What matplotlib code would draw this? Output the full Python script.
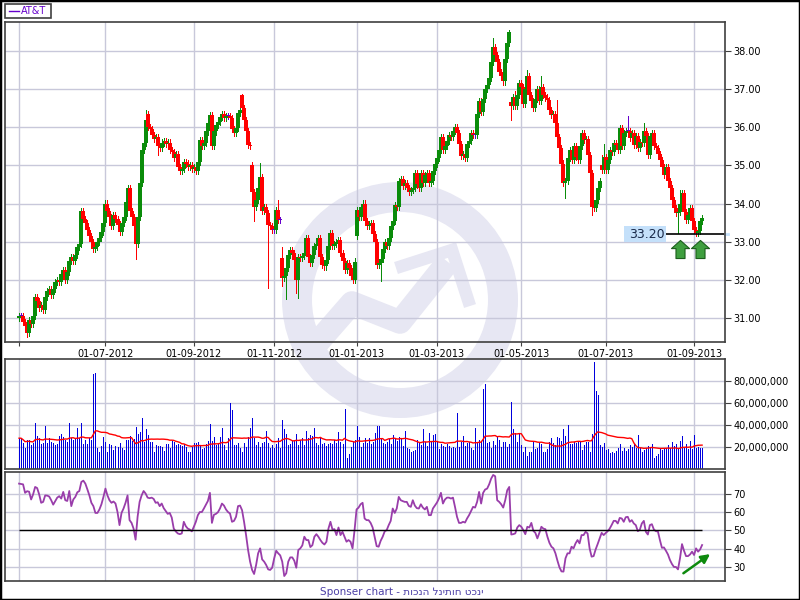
import numpy as np
import pandas as pd
import matplotlib
matplotlib.use("Agg")
import matplotlib.pyplot as plt
from matplotlib.patches import Rectangle, Wedge
from matplotlib.path import Path
from matplotlib.ticker import FuncFormatter

# AT&T daily closes (two months per list)
close_mayjun12 = [31.05, 31.05, 30.90, 30.80, 30.60, 30.95, 30.85, 31.05, 31.55, 31.45,
                  31.25, 31.35, 31.20, 31.55, 31.70, 31.75, 31.60, 31.75, 31.95, 32.00,
                  31.95, 32.15, 32.25, 32.00, 32.20, 32.50, 32.60, 32.50, 32.65, 32.85,
                  32.95, 33.80, 33.60, 33.50, 33.30, 33.15, 33.00, 32.80, 32.85, 33.00,
                  33.10, 33.25, 33.50]
close_julaug12 = [34.00, 33.80, 33.65, 33.40, 33.70, 33.60, 33.45, 33.25, 33.50, 33.65,
                  34.05, 34.40, 33.80, 33.65, 33.40, 32.95, 33.65, 34.55, 35.40, 35.60,
                  36.20, 36.00, 35.95, 35.80, 35.70, 35.75, 35.50, 35.45, 35.60, 35.65,
                  35.55, 35.60, 35.40, 35.35, 35.20, 35.30, 34.95, 34.85, 34.90, 35.10,
                  35.05, 34.95, 35.00, 34.90]
close_sepoct12 = [34.95, 34.85, 35.10, 35.67, 35.50, 35.60, 35.89, 36.10, 36.32, 35.50,
                  35.89, 36.05, 36.15, 36.28, 36.35, 36.24, 36.30, 36.30, 36.25, 35.95,
                  35.84, 35.97, 36.37, 36.45, 36.50, 36.20, 35.90, 35.54, 35.50, 34.30,
                  33.92, 34.10, 34.40, 34.70, 33.80, 33.92, 33.75, 33.44, 33.40, 33.30]
close_novdec12 = [33.30, 33.83, 33.57, 33.57, 32.04, 32.10, 32.30, 32.65, 32.79, 32.70,
                  32.52, 32.00, 32.60, 32.58, 32.62, 32.70, 33.10, 32.60, 32.44, 32.65,
                  32.88, 32.95, 33.10, 32.60, 32.40, 32.35, 32.52, 32.88, 33.22, 32.90,
                  32.95, 33.00, 33.05, 32.70, 32.50, 32.26, 32.45, 32.30, 32.10, 32.00,
                  32.48]
close_janfeb13 = [33.83, 33.65, 33.90, 34.00, 33.55, 33.40, 33.45, 33.50, 33.20, 33.00,
                  32.40, 32.45, 32.55, 32.80, 33.00, 32.90, 33.10, 33.40, 33.55, 33.95,
                  33.90, 34.60, 34.65, 34.45, 34.55, 34.40, 34.30, 34.35, 34.40, 34.80,
                  34.50, 34.40, 34.80, 34.55, 34.75, 34.80, 34.55, 34.60, 34.85, 35.05]
close_marapr13 = [35.20, 35.40, 35.75, 35.40, 35.50, 35.65, 35.80, 35.75, 35.90, 36.00,
                  35.85, 35.55, 35.25, 35.30, 35.20, 35.55, 35.65, 35.85, 35.80, 35.80,
                  36.35, 36.70, 36.40, 36.75, 37.00, 37.10, 37.30, 37.70, 38.10, 37.90,
                  37.70, 37.45, 37.35, 37.20, 37.80, 38.20, 38.50, 36.55, 36.80, 36.55,
                  36.85, 37.15]
close_mayjun13 = [37.05, 36.60, 37.00, 37.35, 36.85, 36.70, 36.50, 36.75, 37.00, 36.70,
                  37.05, 36.85, 36.78, 36.72, 36.45, 36.32, 36.35, 36.10, 35.75, 35.45,
                  35.05, 34.53, 34.60, 35.20, 35.40, 35.14, 35.50, 35.23, 35.14, 35.50,
                  35.84, 35.67, 35.70, 35.27, 34.80, 33.92, 33.88, 34.10, 34.40, 34.58,
                  34.88, 35.23]
close_julaug13 = [34.88, 35.14, 35.40, 35.36, 35.58, 35.54, 35.40, 35.97, 35.50, 35.84,
                  35.89, 35.89, 35.71, 35.84, 35.54, 35.76, 35.45, 35.62, 35.58, 35.89,
                  35.76, 35.27, 35.76, 35.84, 35.50, 35.45, 35.30, 35.14, 34.97, 34.75,
                  34.97, 34.58, 34.40, 34.10, 33.88, 33.75, 33.79, 34.00, 34.27, 33.79,
                  33.57, 33.70, 33.88, 33.53]
close_sep13 = [33.31, 33.22, 33.27, 33.55, 33.62]

# opens that gap away from the previous close, and long wicks
gap_open = {0: 31.00, 64: 36.35, 111: 36.85, 116: 35.00, 131: 32.57,
            168: 33.15, 245: 36.65, 290: 35.00}
wick_high = {63: 36.45, 111: 36.88, 120: 35.06, 129: 34.10, 131: 32.87, 236: 38.33,
             244: 38.55, 247: 36.95, 253: 37.50, 260: 37.35, 268: 36.72, 290: 35.26,
             291: 35.55, 303: 36.30, 311: 36.10, 329: 34.35}
wick_low = {4: 30.50, 58: 32.55, 69: 35.27, 117: 33.53, 124: 31.78, 131: 31.83,
            133: 31.50, 138: 31.65, 139: 31.52, 180: 31.96, 245: 36.20, 272: 34.15,
            285: 33.70, 328: 33.22}

# daily volume, millions
volume_part1 = [28, 28, 24, 19.5, 26, 26, 22, 24, 42, 30,
                28, 22.5, 23.4, 39, 24, 28, 25, 23.4, 22, 22.5,
                30, 32, 29.5, 26.4, 24.3, 42, 28, 26.4, 28, 37,
                28, 42, 22.5, 26.4, 22.5, 28, 26.4, 86, 87, 19.5,
                15.8, 21.3, 29.5, 24.3, 15.8, 22.5, 22, 17.3, 21.3, 20.4,
                23.4, 18.8, 17.3, 26, 26.4, 30, 25.5, 27.4, 38, 32,
                34, 46, 24.3, 36, 31, 24.3, 24.3, 15.8, 22, 21.3,
                21.3, 20.4, 16.4, 22.5, 22.5, 18.8, 25.5, 24.3, 22, 22.5,
                22, 21.3, 22.5, 20.4, 15.8, 15.8, 20.4, 23.4, 23.4, 24.3,
                22, 18.2, 19.5, 22.5, 25.5, 41, 25.5, 29.5, 22, 23.4,
                29.5, 37, 22, 17.3, 28, 60, 54, 22, 22, 23.4,
                18.8, 15.8, 23.4, 20.4, 29.5, 37, 46, 28, 22, 25,
                20.4, 23.4, 24.3, 35, 23.4, 18.8, 22, 18.8, 22.5, 28,
                18.8, 45, 36, 32, 22, 22.5, 25.5, 26.4, 32, 22,
                26.4, 28, 22, 35, 28, 31, 30, 37, 23.4, 22,
                28.6, 22.5, 23.4, 21.3, 22.5, 24, 22.5, 26.4, 23.4, 34,
                24.3, 22.5, 55, 9.7, 13.4, 20.4, 24.3, 26.4, 39, 29.5,
                20.4, 24, 28.6, 23.4, 28.6, 22.5, 24.3, 33, 39, 39,
                28.6, 23.4, 22.5, 25, 27, 22.5, 31, 28, 25.5]
volume_part2 = [29.5, 28, 21.3, 35, 19.5, 18.2, 15.8, 16.7, 17.3, 26.4,
                24.3, 22, 36, 25, 21.3, 32.5, 24.3, 31, 32, 24.3,
                18.2, 22.5, 21.3, 20.4, 22.5, 21.3, 19.5, 20.4, 19.5, 51,
                20.4, 24.3, 30, 21.3, 23.4, 24.3, 19.5, 17.3, 37, 24.3,
                26.4, 24.3, 73, 77, 23.4, 24.3, 19.5, 25.5, 22, 29.5,
                26.4, 20.4, 24.3, 24.3, 20.4, 22.5, 61, 36, 33, 25,
                32, 22, 15.8, 20.4, 12.2, 15.8, 15.8, 24.3, 18.2, 18.8,
                23.4, 22.5, 15.8, 15.8, 18.2, 24.3, 28.6, 23.4, 22, 29.5,
                28.6, 25.5, 36, 30, 40, 22.5, 22.5, 25, 23.4, 25.5,
                24.3, 17.3, 22, 24.3, 24.3, 15.8, 32, 97, 71, 67,
                22, 20.4, 24, 17.3, 18.2, 14.3, 15.8, 14.3, 16.4, 18.8,
                22.5, 16.4, 18.8, 16.4, 18.2, 22, 20.4, 22.5, 19.5, 31,
                19.5, 15.8, 17.3, 18.8, 21.3, 19.5, 22.5, 9.7, 12.2, 13.4,
                18.8, 17.3, 18.2, 18.8, 22, 19.5, 24.3, 21.3, 22.5, 19.5,
                25.5, 30, 18.8, 22.5, 18.2, 25.5, 18.2, 31, 19.5, 20.4,
                19.5, 18.8]

# RSI values
rsi_mayjun12 = [75.4, 75.2, 75.0, 70.4, 71.3, 71.0, 66.8, 69.6, 73.6, 73.0,
                69.6, 65.0, 65.5, 69.0, 68.9, 68.4, 66.4, 64.0, 65.9, 67.8,
                68.6, 67.3, 70.9, 66.4, 66.0, 71.4, 63.2, 66.8, 68.2, 70.7,
                71.4, 76.3, 77.0, 75.4, 72.3, 69.0, 65.0, 63.2, 59.5, 59.5,
                61.4, 64.2, 68.2]
rsi_julaug12 = [72.7, 69.0, 66.4, 65.0, 65.7, 64.6, 60.0, 52.9, 59.5, 61.9,
                65.0, 69.0, 55.6, 54.1, 51.0, 45.0, 57.4, 65.5, 69.0, 71.4,
                70.0, 67.8, 67.5, 67.8, 67.1, 65.0, 65.3, 63.2, 64.6, 62.1,
                60.6, 59.0, 59.5, 57.0, 51.0, 49.5, 48.4, 48.0, 48.4, 54.7,
                52.3, 51.0, 50.5, 49.5]
rsi_sepoct12 = [52.0, 54.7, 58.3, 60.0, 60.0, 61.9, 64.0, 66.0, 70.4, 54.1,
                58.5, 59.0, 59.9, 61.9, 64.6, 63.5, 61.4, 60.0, 59.2, 54.7,
                55.2, 57.4, 63.2, 63.5, 61.0, 54.7, 47.5, 39.4, 33.1, 28.6,
                26.4, 31.3, 37.6, 40.3, 34.3, 33.1, 31.3, 28.9, 28.6, 29.8]
rsi_novdec12 = [34.9, 39.0, 37.6, 36.5, 33.1, 25.3, 26.8, 33.1, 35.4, 35.4,
                33.6, 29.8, 39.4, 40.3, 41.9, 46.6, 44.8, 44.8, 41.0, 42.0,
                46.6, 48.0, 46.6, 44.8, 43.3, 42.4, 43.9, 51.0, 54.7, 50.5,
                50.7, 47.5, 51.6, 47.5, 49.3, 46.6, 43.9, 44.8, 43.9, 40.3,
                50.2]
rsi_janfeb13 = [61.4, 62.4, 64.2, 65.0, 56.5, 55.6, 55.6, 54.1, 51.6, 46.6,
                41.5, 41.2, 44.4, 46.6, 49.5, 50.2, 52.9, 55.2, 61.9, 59.5,
                61.9, 68.2, 66.4, 65.9, 65.5, 65.5, 63.3, 62.8, 66.4, 63.5,
                62.1, 61.9, 64.2, 62.4, 61.4, 62.8, 58.3, 58.3, 61.9, 63.5]
rsi_marapr13 = [65.1, 67.3, 70.4, 64.6, 66.8, 67.8, 67.8, 67.3, 67.8, 62.8,
                57.4, 54.1, 54.1, 54.7, 54.3, 56.5, 58.3, 60.6, 62.8, 62.4,
                65.5, 70.9, 64.6, 70.4, 72.2, 72.7, 75.0, 78.1, 80.1, 79.4,
                66.4, 65.5, 64.2, 62.4, 66.4, 71.8, 73.6, 47.8, 48.0, 48.4,
                51.6, 52.9]
rsi_mayjun13 = [52.0, 50.2, 48.0, 52.0, 51.6, 54.1, 49.8, 48.7, 45.7, 48.7,
                52.0, 51.0, 50.7, 46.6, 43.3, 41.2, 40.3, 37.6, 33.6, 30.0,
                27.8, 27.7, 34.9, 37.6, 37.6, 41.2, 40.3, 43.0, 44.8, 43.0,
                47.5, 47.5, 49.3, 48.4, 40.3, 35.8, 36.1, 39.7, 42.6, 45.7,
                48.7, 47.5]
rsi_julaug13 = [48.6, 49.6, 51.0, 53.0, 55.2, 55.2, 53.8, 56.8, 56.5, 54.7,
                57.2, 57.4, 54.7, 55.6, 53.8, 52.9, 49.6, 50.4, 53.8, 55.2,
                49.3, 47.8, 52.9, 53.4, 50.5, 49.6, 49.5, 44.8, 40.6, 40.8,
                39.0, 37.0, 34.0, 31.8, 30.2, 30.2, 28.9, 34.9, 42.6, 39.0,
                36.1, 36.1, 37.0, 38.5]
rsi_sep13 = [36.7, 40.3, 38.5, 39.7, 42.1]

# trading calendar and axis labels
holidays = ["2012-05-28", "2012-07-04", "2012-09-03", "2012-10-29", "2012-10-30",
            "2012-11-22", "2012-12-25", "2013-01-01", "2013-01-21", "2013-02-18",
            "2013-03-29", "2013-05-27", "2013-07-04", "2013-09-02"]
month_marks = ["2012-05-01", "2012-07-01", "2012-09-01", "2012-11-01", "2013-01-01",
               "2013-03-01", "2013-05-01", "2013-07-01", "2013-09-01"]
last_price = 33.20
arrow_idx = [329, 339]

GREEN = "#0a8c0a"
RED = "#ff0000"
PURPLE = "#6600cc"
GRID = "#c8c8da"
SPINE = "#404040"
WATER = "#e7e7f3"

close = np.array(close_mayjun12 + close_julaug12 + close_sepoct12 + close_novdec12 +
                 close_janfeb13 + close_marapr13 + close_mayjun13 + close_julaug13 + close_sep13)
rsi = np.array(rsi_mayjun12 + rsi_julaug12 + rsi_sepoct12 + rsi_novdec12 + rsi_janfeb13 +
               rsi_marapr13 + rsi_mayjun13 + rsi_julaug13 + rsi_sep13)
volume = np.array(volume_part1 + volume_part2) * 1e6

dates = pd.bdate_range("2012-05-01", "2013-09-09", freq="C", holidays=holidays)
tick_pos = dates.searchsorted(pd.to_datetime(month_marks))
tick_lab = [""] + [pd.Timestamp(m).strftime("%d-%m-%Y") for m in month_marks[1:]]

x = np.arange(len(close))
opens = np.r_[close[0], close[:-1]]
for i, v in gap_open.items():
    opens[i] = v
top = np.maximum(opens, close)
bot = np.minimum(opens, close)
high = top + 0.08
low = bot - 0.08
for i, v in wick_high.items():
    high[i] = v
for i, v in wick_low.items():
    low[i] = v
cols = np.where(close > opens + 1e-9, GREEN, np.where(close < opens - 1e-9, RED, PURPLE))
body_top = np.maximum(top, bot + 0.03)

fig = plt.figure(figsize=(8, 6), dpi=100)
fig.patch.set_facecolor("white")

# background: watermark logo, legend box, frame
bg = fig.add_axes([0, 0, 1, 1], zorder=-1)
bg.set_xlim(0, 800)
bg.set_ylim(600, 0)
bg.axis("off")
bg.add_patch(Wedge((400, 300), 118, 0, 360, width=30, color=WATER, lw=0))
bg.plot([318, 352, 400, 448], [342, 303, 322, 262], color=WATER, lw=17,
        solid_joinstyle="round", solid_capstyle="butt")
bg.plot([396, 452, 470], [268, 250, 306], color=WATER, lw=9,
        solid_joinstyle="miter", solid_capstyle="butt")
bg.add_patch(Rectangle((5, 4), 46, 14, fill=False, edgecolor=SPINE, lw=1.2))
bg.plot([8.5, 19], [11.3, 11.3], color=PURPLE, lw=1)
bg.text(20.5, 11.5, "AT&T", color=PURPLE, fontsize=7, va="center", ha="left")
fig.patches.append(Rectangle((0, 0), 1, 1, transform=fig.transFigure, fill=False,
                             edgecolor="black", lw=2.5))

W = 720 / 800
ax_p = fig.add_axes([5 / 800, 1 - 342 / 600, W, 320 / 600])
ax_v = fig.add_axes([5 / 800, 1 - 469 / 600, W, 110 / 600])
ax_r = fig.add_axes([5 / 800, 1 - 581 / 600, W, 109 / 600])

for ax in (ax_p, ax_v, ax_r):
    ax.set_facecolor("none")
    ax.set_xlim(-7.0, 351.4)
    ax.yaxis.tick_right()
    ax.tick_params(axis="y", direction="out", length=4, width=0.8, color=SPINE,
                   labelsize=7, pad=2)
    ax.set_xticks(tick_pos)
    ax.grid(True, color=GRID, lw=1)
    ax.set_axisbelow(True)
    for s in ax.spines.values():
        s.set_color(SPINE)
        s.set_linewidth(1.2)

# price panel
ax_p.vlines(x, low, high, colors=cols, lw=0.72, antialiased=False)
ax_p.vlines(x, bot, body_top, colors=cols, lw=1.6, antialiased=False)
ax_p.set_ylim(30.37, 38.76)
ax_p.set_yticks(np.arange(31, 39))
ax_p.yaxis.set_major_formatter(FuncFormatter(lambda v, p: f"{v:.2f}"))
ax_p.set_xticklabels(tick_lab)
ax_p.tick_params(axis="x", direction="out", length=3, width=0.8, color=SPINE,
                 labelsize=7, pad=2)

ax_p.add_patch(Rectangle((301, last_price - 0.2), 21, 0.4, color="#c4e0fa", lw=0))
ax_p.text(321.5, last_price, f"{last_price:.2f}", ha="right", va="center",
          fontsize=9, color="#1a2a4a")
ax_p.hlines(last_price, 322, 351.4, color="black", lw=1.2)
ax_p.plot([351.4, 353], [last_price, last_price], color="#c4e0fa", lw=2, clip_on=False)

arrow_path = Path([(-1, 0.1), (0, 1), (1, 0.1), (0.5, 0.1), (0.5, -1), (-0.5, -1),
                   (-0.5, 0.1), (-1, 0.1)], closed=True)
ax_p.plot(arrow_idx, [32.81] * len(arrow_idx), ls="none", marker=arrow_path,
          markersize=13, markerfacecolor="#3f9f3f", markeredgecolor="#1c5e1c",
          markeredgewidth=0.8)

# volume panel
xv = np.arange(len(volume))
ax_v.vlines(xv, 0, volume, colors="#0000dd", lw=0.72, antialiased=False)
ax_v.plot(xv, pd.Series(volume).rolling(20, min_periods=1).mean(), color=RED, lw=1)
ax_v.set_ylim(0, 100e6)
ax_v.set_yticks([20e6, 40e6, 60e6, 80e6])
ax_v.yaxis.set_major_formatter(FuncFormatter(lambda v, p: f"{v:,.0f}"))
ax_v.tick_params(axis="x", length=0, labelbottom=False)

# RSI panel
xr = np.arange(len(rsi))
ax_r.plot(xr, rsi, color="#993daa", lw=1.3)
ax_r.hlines(50, xr[0], xr[-1], color="black", lw=1)
ax_r.set_ylim(22.6, 81.7)
ax_r.set_yticks([30, 40, 50, 60, 70])
ax_r.tick_params(axis="x", length=0, labelbottom=False)
ax_r.annotate("", xy=(344, 37.2), xytext=(330.7, 26.8),
              arrowprops=dict(arrowstyle="-|>", color="#0e8a0e", lw=1.8,
                              mutation_scale=13, shrinkA=0, shrinkB=0),
              annotation_clip=False)

fig.text(0.5025, 1 - 592 / 600, "Sponser chart - תוכנה לניתוח טכני", ha="center",
         va="center", fontsize=7.5, color="#4b3fa6")

fig.savefig("out.png", dpi=100)
